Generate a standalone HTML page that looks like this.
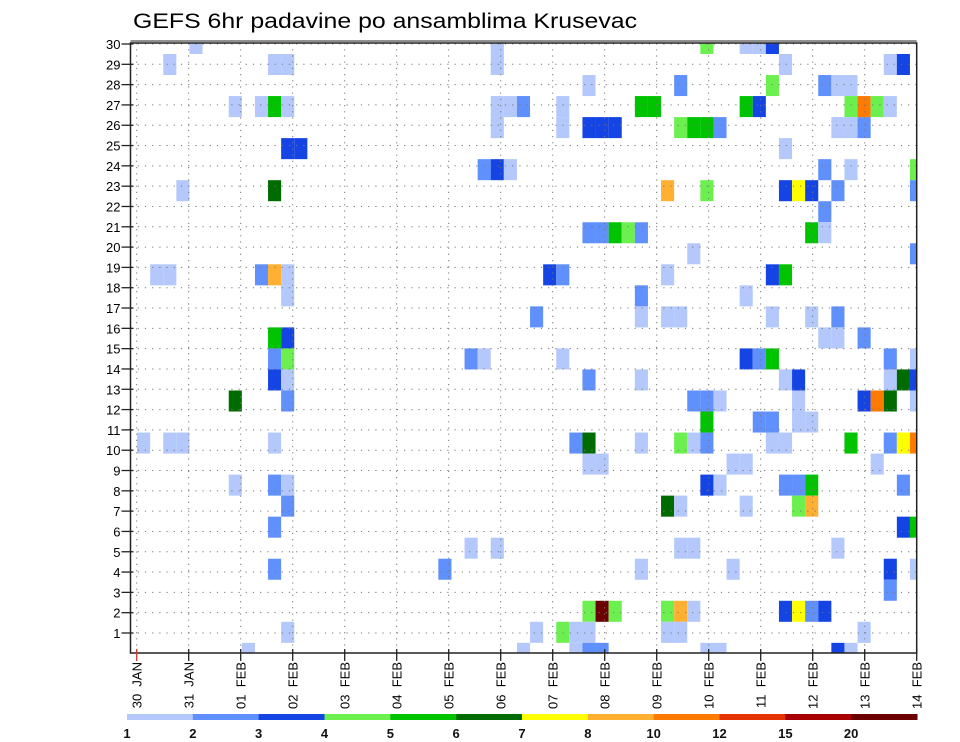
<!DOCTYPE html>
<html><head><meta charset="utf-8">
<style>
html,body{margin:0;padding:0;background:#fff;}
svg{display:block;font-family:"Liberation Sans",sans-serif;}
</style></head>
<body>
<svg id="chart" width="960" height="742" viewBox="0 0 960 742" xmlns="http://www.w3.org/2000/svg">
<text x="133" y="28" font-size="21" textLength="504" lengthAdjust="spacingAndGlyphs" fill="#000">GEFS 6hr padavine po ansamblima Krusevac</text>
<defs><clipPath id="plotclip"><rect x="130.5" y="43" width="786.2" height="610"/></clipPath></defs>
<g id="cells" clip-path="url(#plotclip)"></g>
<g id="grid"></g>
<g id="axes"></g>
<g id="legend"></g>
</svg>
<script>
const cellTime = [
5,28,44,47,48,49,
3,11,12,28,50,58,59,
35,42,49,53,54,55,
8,10,11,12,28,29,30,33,39,40,47,48,55,56,57,58,
28,33,35,36,37,42,43,44,45,54,55,56,
12,13,50,
27,28,29,53,55,60,
4,11,41,44,50,51,52,54,60,
53,
35,36,37,38,39,52,53,
43,60,
2,3,10,11,12,32,33,41,49,50,
12,39,47,
31,39,41,42,49,52,54,
11,12,53,54,56,
11,12,26,27,33,47,48,49,58,60,
11,12,35,39,50,51,58,59,60,
8,12,43,44,45,51,56,57,58,60,
44,48,49,51,52,
1,3,4,11,34,35,39,42,43,44,49,50,55,58,59,60,
35,36,46,47,57,
8,11,12,44,45,50,51,52,59,
12,41,42,47,51,52,
11,59,60,
26,28,42,43,54,
11,24,39,46,58,60,
58,
35,36,37,41,42,43,50,51,52,53,
12,31,33,34,35,41,42,56,
9,30,34,35,36,44,45,54,55
];
const cellMember = [
30,30,30,30,30,30,
29,29,29,29,29,29,29,
28,28,28,28,28,28,
27,27,27,27,27,27,27,27,27,27,27,27,27,27,27,27,
26,26,26,26,26,26,26,26,26,26,26,26,
25,25,25,
24,24,24,24,24,24,
23,23,23,23,23,23,23,23,23,
22,
21,21,21,21,21,21,21,
20,20,
19,19,19,19,19,19,19,19,19,19,
18,18,18,
17,17,17,17,17,17,17,
16,16,16,16,16,
15,15,15,15,15,15,15,15,15,15,
14,14,14,14,14,14,14,14,14,
13,13,13,13,13,13,13,13,13,13,
12,12,12,12,12,
11,11,11,11,11,11,11,11,11,11,11,11,11,11,11,11,
10,10,10,10,10,
9,9,9,9,9,9,9,9,9,
8,8,8,8,8,8,
7,7,7,
6,6,6,6,6,
5,5,5,5,5,5,
4,
3,3,3,3,3,3,3,3,3,3,
2,2,2,2,2,2,2,2,
1,1,1,1,1,1,1,1,1
];
const cellPrecip = [
1.5,1.5,4.5,1.5,1.5,3.5,
1.5,1.5,1.5,1.5,1.5,1.5,3.5,
1.5,2.5,4.5,2.5,1.5,1.5,
1.5,1.5,5.5,1.5,1.5,1.5,2.5,1.5,5.5,5.5,5.5,3.5,4.5,11,4.5,1.5,
1.5,1.5,3.5,3.5,3.5,4.5,5.5,5.5,2.5,1.5,1.5,2.5,
3.5,3.5,1.5,
2.5,3.5,1.5,2.5,1.5,4.5,
1.5,6.5,9,4.5,3.5,7.5,3.5,2.5,2.5,
2.5,
2.5,2.5,5.5,4.5,2.5,5.5,1.5,
1.5,2.5,
1.5,1.5,2.5,9,1.5,3.5,2.5,1.5,3.5,5.5,
1.5,2.5,1.5,
2.5,1.5,1.5,1.5,1.5,1.5,2.5,
5.5,3.5,1.5,1.5,2.5,
2.5,4.5,2.5,1.5,1.5,3.5,2.5,5.5,2.5,1.5,
3.5,1.5,2.5,1.5,1.5,3.5,1.5,6.5,3.5,
6.5,2.5,2.5,2.5,1.5,1.5,3.5,11,6.5,1.5,
5.5,2.5,2.5,1.5,1.5,
1.5,1.5,1.5,1.5,2.5,6.5,1.5,4.5,1.5,2.5,1.5,1.5,5.5,2.5,7.5,11,
1.5,1.5,1.5,1.5,1.5,
1.5,2.5,1.5,3.5,1.5,2.5,2.5,5.5,2.5,
2.5,6.5,1.5,1.5,4.5,9,
2.5,3.5,5.5,
1.5,1.5,1.5,1.5,1.5,
2.5,2.5,1.5,1.5,3.5,1.5,
2.5,
4.5,25,4.5,4.5,9,1.5,3.5,7.5,2.5,3.5,
1.5,1.5,4.5,1.5,1.5,1.5,1.5,1.5,
1.5,1.5,1.5,2.5,2.5,1.5,1.5,3.5,1.5
];
const levels = [1,2,3,4,5,6,7,8,10,12,15,20];
const levelColors = ["#b4c8fc","#6090fc","#1444e4","#6cf050","#00c400","#006c00","#ffff00","#ffb030","#ff7a00","#e43200","#a80000","#6a0000"];
const dayLabels = ["30 JAN","31 JAN","01 FEB","02 FEB","03 FEB","04 FEB","05 FEB","06 FEB","07 FEB","08 FEB","09 FEB","10 FEB","11 FEB","12 FEB","13 FEB","14 FEB"];
const memberTicks = [1,2,3,4,5,6,7,8,9,10,11,12,13,14,15,16,17,18,19,20,21,22,23,24,25,26,27,28,29,30];

const NS="http://www.w3.org/2000/svg";
const PL=130.5, PR=916.7, PT=43, PB=653;
const CW=13.1, CH=21.03;
function xCell(k){return PL + CW*k - CW/2;}
function yCell(m){return 54 + CH*(29-m);}
function xDay(d){return 136.7 + 52*d;}
function yTick(m){return 44 + 20.31*(30-m);}
function colorFor(v){let c=null;for(let i=0;i<levels.length;i++){if(v>=levels[i])c=levelColors[i];}return c;}
function mk(tag,attrs,parent){const e=document.createElementNS(NS,tag);for(const a in attrs)e.setAttribute(a,attrs[a]);parent.appendChild(e);return e;}

const gc=document.getElementById('cells');
for(let i=0;i<cellTime.length;i++){
  const col=colorFor(cellPrecip[i]); if(!col) continue;
  const r=mk('rect',{x:xCell(cellTime[i]).toFixed(2),y:yCell(cellMember[i]).toFixed(2),width:CW,height:CH,fill:col},gc);
  
  
}
const gg=document.getElementById('grid');
memberTicks.forEach(m=>{
  const l=mk('line',{x1:PL,x2:PR,y1:yTick(m),y2:yTick(m),stroke:"#777","stroke-width":1,"stroke-dasharray":"1.2,6"},gg);
  
  
});
dayLabels.forEach((d,i)=>{
  const l=mk('line',{x1:xDay(i),x2:xDay(i),y1:PT,y2:PB,stroke:"#777","stroke-width":1,"stroke-dasharray":"1.2,5"},gg);
  
  
});
const ga=document.getElementById('axes');
const fr=mk('rect',{x:PL,y:PT,width:PR-PL,height:PB-PT,fill:"none",stroke:"#222","stroke-width":1.5},ga);


const tb=mk('line',{x1:PL,x2:PR,y1:PT-2,y2:PT-2,stroke:"#222","stroke-width":1},ga);


memberTicks.forEach(m=>{
  const t=mk('line',{x1:PL-9,x2:PL+3,y1:yTick(m),y2:yTick(m),stroke:"#222","stroke-width":1.3},ga);
  
  
  const tx=mk('text',{x:PL-10,y:yTick(m)+5,"text-anchor":"end","font-size":13,fill:"#000"},ga);
  tx.textContent=String(m);
  
  
});
dayLabels.forEach((d,i)=>{
  const x=xDay(i);
  const t=mk('line',{x1:x,x2:x,y1:PB-4,y2:PB+8,stroke:i===0?"#c33":"#222","stroke-width":1.3},ga);
  
  
  const tx=mk('text',{x:0,y:0,"text-anchor":"end","font-size":13,fill:"#000",transform:`translate(${x+5},662) rotate(-90)`},ga);
  tx.textContent=d.replace(' ','\u00a0\u00a0');
  
  
});
const gl=document.getElementById('legend');
const LX0=127, LX1=917, segW=(LX1-LX0)/levels.length;
levels.forEach((lv,i)=>{
  const r=mk('rect',{x:LX0+segW*i,y:714,width:segW+0.5,height:6,fill:levelColors[i]},gl);
  
  
  const tx=mk('text',{x:LX0+segW*i,y:738,"text-anchor":"middle","font-size":13,"font-weight":"bold",fill:"#111"},gl);
  tx.textContent=String(lv);
  
  
});
</script>
</body></html>
